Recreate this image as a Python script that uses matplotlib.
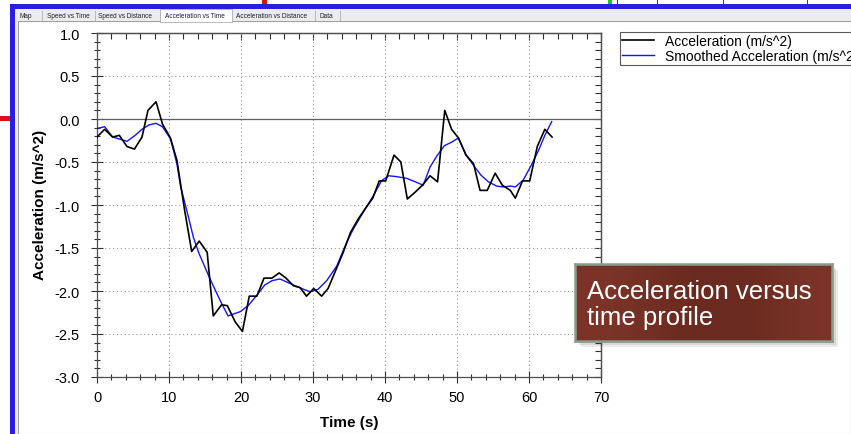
import numpy as np
import matplotlib.pyplot as plt
from matplotlib.patches import Rectangle
from matplotlib.ticker import MultipleLocator

plt.rcParams['font.family'] = ['Liberation Sans', 'DejaVu Sans']

# Raw acceleration samples (s, m/s^2)
acc_t = [0, 1.06, 2.17, 3.1, 4.17, 5.2, 6.25, 7.08, 8.2, 9.1,
         10.2, 11.1, 12.15, 13.15, 14.2, 15.3, 16.15, 17.3, 18.1, 19.2,
         20.2, 21.15, 22.2, 23.2, 24.3, 25.3, 26.25, 27.3, 28.2, 29.1,
         30.1, 31.2, 32.1, 33.05, 34.2, 35.2, 36.3, 37.2, 38.3, 39.2,
         40.1, 41.25, 42.2, 43.1, 44.2, 45.2, 46.25, 47.3, 48.3, 49.25,
         50.2, 51.25, 52.3, 53.2, 54.2, 55.3, 56.3, 57.4, 58.1, 59.1,
         60.1, 61.15, 62.2, 63.2]
acc = [-0.21, -0.12, -0.21, -0.19, -0.32, -0.35, -0.21, 0.10, 0.20, -0.06,
       -0.22, -0.48, -1.05, -1.54, -1.42, -1.55, -2.29, -2.16, -2.17, -2.36,
       -2.47, -2.06, -2.06, -1.85, -1.85, -1.79, -1.85, -1.94, -1.96, -2.06,
       -1.97, -2.06, -1.97, -1.78, -1.55, -1.32, -1.16, -1.05, -0.92, -0.72,
       -0.72, -0.42, -0.50, -0.93, -0.85, -0.77, -0.66, -0.73, 0.10, -0.12,
       -0.22, -0.42, -0.52, -0.83, -0.83, -0.63, -0.77, -0.83, -0.92, -0.72,
       -0.72, -0.32, -0.12, -0.21]

# Smoothed acceleration
sm_t = [0, 1.06, 2.17, 3.0, 4.17, 5.3, 6.25, 7.2, 8.2, 9.1,
        10.2, 11.1, 11.6, 12.7, 13.4, 14.2, 15.6, 17.1, 18.2, 19.9,
        21.0, 22.2, 23.3, 24.3, 25.4, 27.0, 28.4, 29.6, 30.7, 31.9,
        33.3, 34.7, 35.6, 37.0, 38.4, 39.5, 40.5, 41.6, 43.0, 44.2,
        45.3, 46.25, 47.2, 48.25, 49.25, 50.2, 51.2, 52.3, 53.3, 54.35,
        55.5, 56.4, 57.4, 58.1, 59.2, 60.3, 61.3, 62.2, 63.15]
smooth = [-0.11, -0.09, -0.21, -0.23, -0.26, -0.19, -0.12, -0.07, -0.05, -0.09,
          -0.23, -0.52, -0.78, -1.14, -1.38, -1.57, -1.84, -2.11, -2.29, -2.24,
          -2.17, -2.05, -1.93, -1.88, -1.86, -1.92, -1.97, -2.01, -1.98, -1.88,
          -1.71, -1.43, -1.28, -1.08, -0.89, -0.72, -0.66, -0.67, -0.69, -0.73,
          -0.77, -0.56, -0.43, -0.31, -0.27, -0.22, -0.41, -0.54, -0.65, -0.73,
          -0.78, -0.79, -0.78, -0.79, -0.71, -0.54, -0.37, -0.19, -0.03]

tabs = ['Map', 'Speed vs Time', 'Speed vs Distance', 'Acceleration vs Time',
        'Acceleration vs Distance', 'Data']
tab_x = [20, 47, 98, 165, 236, 319]
tab_sep = [42, 95, 160, 232, 315, 340]

W, H = 851, 435
fig = plt.figure(figsize=(W / 100, H / 100), dpi=100)
fig.patch.set_facecolor('white')


def box(x0, y0, x1, y1, **kw):
    # rectangle in pixel coords, y measured from the top
    r = Rectangle((x0 / W, 1 - y1 / H), (x1 - x0) / W, (y1 - y0) / H,
                  transform=fig.transFigure, **kw)
    fig.add_artist(r)
    return r


# window chrome
box(0, 0, W, H, facecolor='white', edgecolor='none', zorder=0)
box(15, 10, W, H, facecolor='#f0f0f0', edgecolor='none', zorder=0)
box(18, 22, W, H, facecolor='white', edgecolor='#a0a0a0', lw=0.8, zorder=0)
box(10, 5, W, 10, facecolor='#2a1fe0', edgecolor='none', zorder=1)
box(10, 5, 15, H, facecolor='#2a1fe0', edgecolor='none', zorder=1)
box(0, 117, 10, 122, facecolor='#e01010', edgecolor='none', zorder=1)
box(262, 0, 267, 5, facecolor='#e01010', edgecolor='none', zorder=1)
box(608, 0, 612, 5, facecolor='#20c020', edgecolor='none', zorder=1)
for xv in [617, 657, 723, 807]:
    box(xv, 0, xv + 1, 5, facecolor='#404040', edgecolor='none', zorder=1)

# tab strip
box(15, 10, W, 22, facecolor='#ececec', edgecolor='none', zorder=1)
box(160, 10, 232, 23, facecolor='white', edgecolor='#b0b0b0', lw=0.6, zorder=2)
for xs in tab_sep:
    box(xs, 12, xs + 0.6, 22, facecolor='#b8b8b8', edgecolor='none', zorder=2)
for name, xt in zip(tabs, tab_x):
    fig.text(xt / W, 1 - 16.5 / H, name, fontsize=4.7, color='#202020',
             va='center', ha='left', zorder=3)

# main chart
ax = fig.add_axes([97 / W, 1 - 378 / H, 504 / W, 344 / H])
ax.plot(acc_t, acc, color='black', lw=1.2, label='Acceleration (m/s^2)', zorder=4)
ax.plot(sm_t, smooth, color='#1414ff', lw=1.0,
        label='Smoothed Acceleration (m/s^2)', zorder=3)
ax.axhline(0, color='#606060', lw=0.9, zorder=2)

ax.set_xlim(0, 70)
ax.set_ylim(-3, 1)
ax.xaxis.set_major_locator(MultipleLocator(10))
ax.xaxis.set_minor_locator(MultipleLocator(2))
ax.yaxis.set_major_locator(MultipleLocator(0.5))
ax.yaxis.set_minor_locator(MultipleLocator(0.1))
ax.yaxis.set_major_formatter(plt.FormatStrFormatter('%.1f'))
ax.grid(True, which='major', color='#9a9a9a', lw=0.8, linestyle=(0, (1, 2.5)))

for s in ax.spines.values():
    s.set_color('#505050')
    s.set_linewidth(0.9)
ax.tick_params(which='both', direction='inout', colors='#303030',
               labelcolor='black', labelsize=10.5, width=0.8)
ax.tick_params(which='major', length=8.5)
ax.tick_params(which='minor', length=5)
ax.tick_params(axis='y', pad=8)
ax.tick_params(axis='x', pad=5)

# ticks pointing inward along top and right edges
top = ax.secondary_xaxis('top')
top.xaxis.set_major_locator(MultipleLocator(10))
top.xaxis.set_minor_locator(MultipleLocator(2))
top.tick_params(which='both', direction='in', labeltop=False, colors='#303030', width=0.8)
top.tick_params(which='major', length=5)
top.tick_params(which='minor', length=4)
right = ax.secondary_yaxis('right')
right.yaxis.set_major_locator(MultipleLocator(0.5))
right.yaxis.set_minor_locator(MultipleLocator(0.1))
right.tick_params(which='both', direction='in', labelright=False, colors='#303030', width=0.8)
right.tick_params(which='major', length=5)
right.tick_params(which='minor', length=4)
for sec in (top, right):
    for s in sec.spines.values():
        s.set_color('#505050')
        s.set_linewidth(0.9)

fig.text(349 / W, 1 - 423 / H, 'Time (s)', fontsize=11, fontweight='bold',
         ha='center', va='center')
fig.text(40 / W, 1 - 205 / H, 'Acceleration (m/s^2)', fontsize=11,
         fontweight='bold', ha='center', va='center', rotation=90)

# legend sits at the window edge, so its second label runs off the right side
leg = ax.legend(loc='upper left', bbox_to_anchor=(620 / W, 1 - 33 / H),
                bbox_transform=fig.transFigure, fontsize=10, frameon=True,
                fancybox=False, borderpad=0.15, handlelength=2.3,
                handletextpad=0.8, labelspacing=0.05, borderaxespad=0)
leg.get_frame().set_edgecolor('#303030')
leg.get_frame().set_linewidth(0.8)

# callout box with shadow and gradient fill
x0, y0, x1, y1 = 575, 265, 832, 342
for k, a in enumerate([0.10, 0.12, 0.15]):
    off = 6 - 2 * k
    box(x0 + off, y0 + off, x1 + off, y1 + off, facecolor='#404040',
        edgecolor='none', alpha=a, zorder=5)
cax = fig.add_axes([x0 / W, 1 - y1 / H, (x1 - x0) / W, (y1 - y0) / H], zorder=6)
g = np.linspace(0, 1, 256)
shade = 0.5 + 0.5 * np.cos(2 * np.pi * (g - 0.05))
c_dark = np.array([106, 42, 31]) / 255
c_light = np.array([124, 52, 40]) / 255
img = c_dark[None, None, :] + (c_light - c_dark)[None, None, :] * shade[None, :, None]
cax.imshow(img, aspect='auto', extent=[0, 1, 0, 1])
cax.set_xlim(0, 1)
cax.set_ylim(0, 1)
cax.set_xticks([])
cax.set_yticks([])
for s in cax.spines.values():
    s.set_color('#8c9a8c')
    s.set_linewidth(1.8)
cax.text(12 / (x1 - x0), 0.48, 'Acceleration versus\ntime profile', color='white',
         fontsize=18.5, ha='left', va='center', linespacing=1.08,
         transform=cax.transAxes)

fig.savefig('out.png', dpi=100)
